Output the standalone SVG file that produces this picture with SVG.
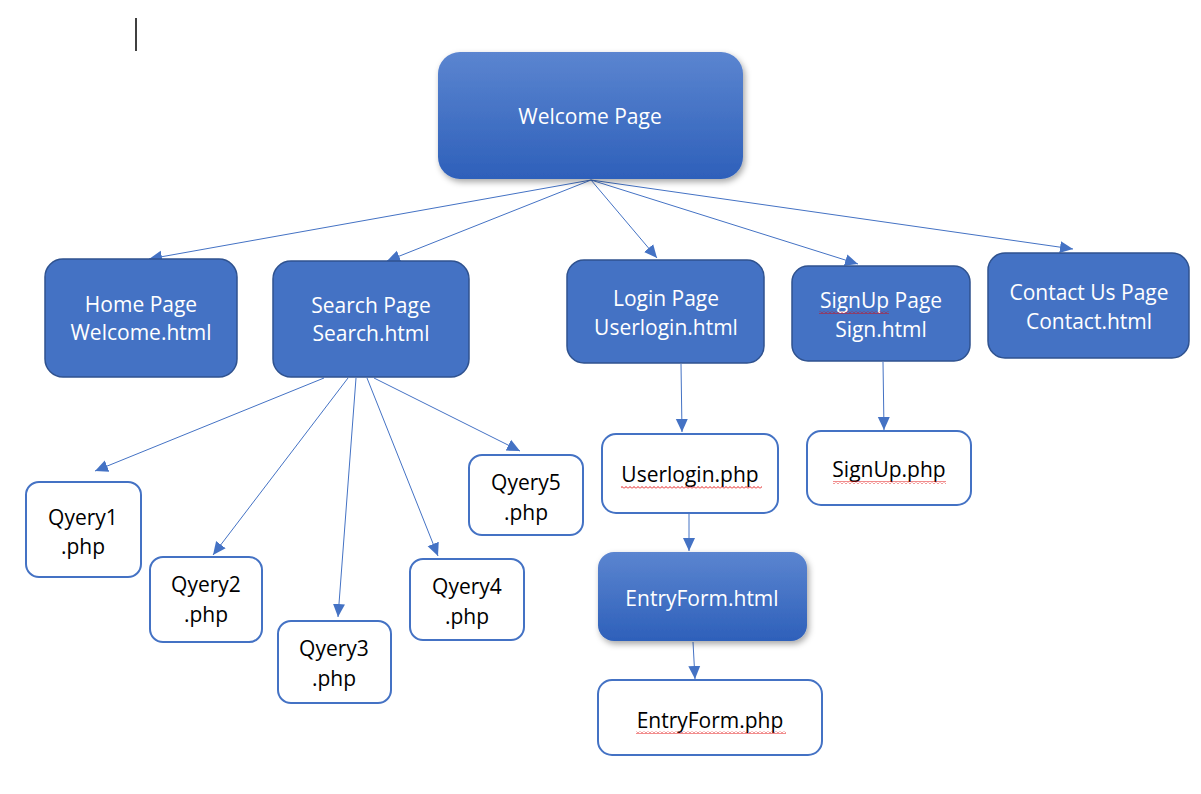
<svg xmlns="http://www.w3.org/2000/svg" width="1201" height="794" viewBox="0 0 1201 794">
<defs>
<style>
.blue{fill:#4472c4;stroke:#2f528f;stroke-width:1.5}
.grad{fill:url(#g)}
.white{fill:#fff;stroke:#4472c4;stroke-width:2}
.wt{font-family:"Open Sans","Liberation Sans",sans-serif;font-size:21px;fill:#fff;text-anchor:middle}
.bt{font-family:"Open Sans","Liberation Sans",sans-serif;font-size:21px;fill:#000;text-anchor:middle}
.conn line{stroke:#4472c4;stroke-width:1;marker-end:url(#arr)}
.sq{fill:url(#squig)}
</style>
<linearGradient id="g" x1="0" y1="0" x2="0" y2="1">
<stop offset="0" stop-color="#5b85d0"/>
<stop offset="1" stop-color="#2e60ba"/>
</linearGradient>
<filter id="sh" x="-10%" y="-10%" width="125%" height="130%">
<feDropShadow dx="2" dy="3" stdDeviation="3" flood-color="#000" flood-opacity="0.35"/>
</filter>
<marker id="arr" markerUnits="userSpaceOnUse" markerWidth="14" markerHeight="14" viewBox="0 0 14 14" refX="13" refY="7" orient="auto">
<path d="M0 1 L13 7 L0 13 Z" fill="#4472c4"/>
</marker>
<pattern id="squig" width="4" height="3" patternUnits="userSpaceOnUse">
<path d="M0 2.5 L2 0.5 L4 2.5" fill="none" stroke="#e00000" stroke-width="0.9"/>
</pattern>
</defs>
<rect width="1201" height="794" fill="#fff"/>
<line x1="136" y1="18" x2="136" y2="51" stroke="#000" stroke-width="1.5"/>

<g class="conn" id="connectors">
<line x1="591" y1="180" x2="149" y2="259"/>
<line x1="591" y1="180" x2="387" y2="261"/>
<line x1="591" y1="180" x2="657" y2="258"/>
<line x1="591" y1="180" x2="858" y2="264"/>
<line x1="591" y1="180" x2="1073" y2="249"/>
<line x1="324" y1="378" x2="95" y2="471"/>
<line x1="348" y1="378" x2="213" y2="555"/>
<line x1="356" y1="378" x2="338" y2="617"/>
<line x1="367" y1="378" x2="438" y2="556"/>
<line x1="374" y1="378" x2="520" y2="451"/>
<line x1="681" y1="364" x2="682" y2="432"/>
<line x1="883" y1="362" x2="884" y2="430"/>
<line x1="689" y1="514" x2="689" y2="551"/>
<line x1="693" y1="642" x2="695" y2="679"/>
</g>

<g id="welcome">
<rect class="grad" x="438" y="52" width="305" height="127" rx="22" filter="url(#sh)"/>
<text class="wt" x="590" y="124">Welcome Page</text>
</g>
<g id="home">
<rect class="blue" x="45" y="259" width="192" height="118" rx="18"/>
<text class="wt" x="141" y="312">Home Page</text>
<text class="wt" x="141" y="340">Welcome.html</text>
</g>
<g id="search">
<rect class="blue" x="273" y="261" width="196" height="116" rx="18"/>
<text class="wt" x="371" y="313">Search Page</text>
<text class="wt" x="371" y="341">Search.html</text>
</g>
<g id="login">
<rect class="blue" x="567" y="260" width="197" height="103" rx="17"/>
<text class="wt" x="666" y="306">Login Page</text>
<text class="wt" x="666" y="335">Userlogin.html</text>
</g>
<g id="signup">
<rect class="blue" x="792" y="266" width="178" height="95" rx="16"/>
<text class="wt" x="881" y="308">SignUp Page</text>
<text class="wt" x="881" y="337">Sign.html</text>
<rect class="sq" x="819" y="311" width="70" height="3"/>
</g>
<g id="contact">
<rect class="blue" x="988" y="253" width="201" height="105" rx="17"/>
<text class="wt" x="1089" y="300">Contact Us Page</text>
<text class="wt" x="1089" y="329">Contact.html</text>
</g>

<g id="q1">
<rect class="white" x="26" y="482" width="115" height="95" rx="13"/>
<text class="bt" x="83" y="525">Qyery1</text>
<text class="bt" x="83" y="554">.php</text>
</g>
<g id="q2">
<rect class="white" x="150" y="557" width="112" height="85" rx="13"/>
<text class="bt" x="206" y="592">Qyery2</text>
<text class="bt" x="206" y="622">.php</text>
</g>
<g id="q3">
<rect class="white" x="278" y="621" width="113" height="82" rx="13"/>
<text class="bt" x="334" y="656">Qyery3</text>
<text class="bt" x="334" y="686">.php</text>
</g>
<g id="q4">
<rect class="white" x="410" y="559" width="114" height="81" rx="13"/>
<text class="bt" x="467" y="594">Qyery4</text>
<text class="bt" x="467" y="624">.php</text>
</g>
<g id="q5">
<rect class="white" x="469" y="455" width="114" height="80" rx="13"/>
<text class="bt" x="526" y="490">Qyery5</text>
<text class="bt" x="526" y="520">.php</text>
</g>
<g id="userloginphp">
<rect class="white" x="602" y="434" width="176" height="79" rx="14"/>
<text class="bt" x="690" y="482">Userlogin.php</text>
<rect class="sq" x="621" y="486" width="141" height="3"/>
</g>
<g id="signupphp">
<rect class="white" x="807" y="431" width="164" height="74" rx="14"/>
<text class="bt" x="889" y="477">SignUp.php</text>
<rect class="sq" x="833" y="481" width="113" height="3"/>
</g>
<g id="entryformhtml">
<rect class="grad" x="598" y="552" width="209" height="89" rx="16" filter="url(#sh)"/>
<text class="wt" x="702" y="606">EntryForm.html</text>
</g>
<g id="entryformphp">
<rect class="white" x="598" y="680" width="224" height="75" rx="14"/>
<text class="bt" x="710" y="728">EntryForm.php</text>
<rect class="sq" x="636" y="731" width="150" height="3"/>
</g>
</svg>
